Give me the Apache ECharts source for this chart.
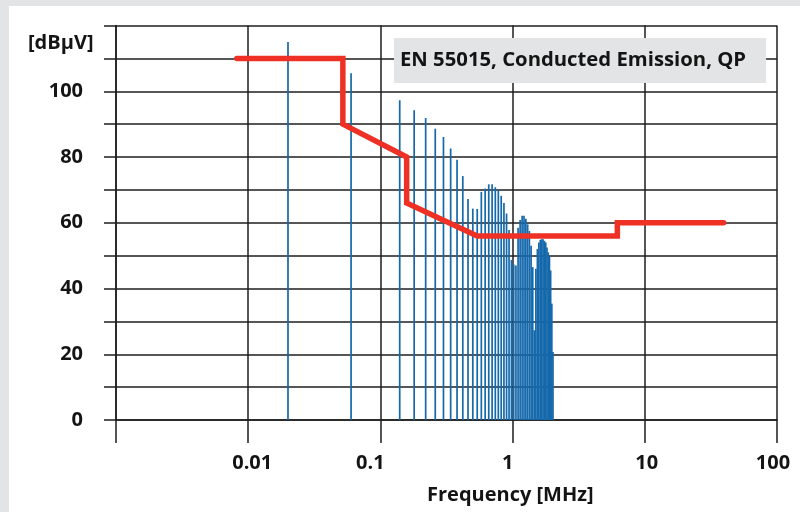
<!DOCTYPE html>
<html>
<head>
<meta charset="utf-8">
<script src="https://cdn.jsdelivr.net/npm/echarts@6/dist/echarts.min.js"></script>
<style>
  html, body { margin: 0; padding: 0; background: #e3e4e6; }
  #main { position: absolute; left: 9px; top: 6px; width: 791px; height: 506px; background: #fff; }
</style>
</head>
<body>
<div id="main"></div>
<script>
// harmonic spectrum (MHz / dBµV)
const spikeFreqs = [0.02, 0.06, 0.14, 0.18, 0.22, 0.26, 0.30, 0.34, 0.38, 0.42, 0.46, 0.50,
  0.54, 0.58, 0.62, 0.66, 0.70, 0.74, 0.78, 0.82, 0.86, 0.90, 0.94, 0.98, 1.02, 1.06,
  1.10, 1.14, 1.18, 1.22, 1.26, 1.30, 1.34, 1.38, 1.42, 1.46, 1.50, 1.54, 1.58, 1.62,
  1.66, 1.70, 1.74, 1.78, 1.82, 1.86, 1.90, 1.94, 1.98, 2.02];
const spikeLevels = [115, 105.5, 97.3, 94.2, 91.9, 88.6, 86.1, 82.6, 79.2, 74.2, 67.2, 64.3,
  64.2, 69.4, 70.4, 71.7, 71.7, 70.8, 70, 68.2, 66, 62.8, 57.8, 48.7, 47.3, 47,
  58.5, 60.8, 62.1, 62.1, 61.2, 59.5, 57.5, 53, 46.5, 27.3, 46, 52, 54, 54.8,
  55, 55, 54.5, 54, 52.5, 51, 49.7, 45.5, 35.4, 20.7];

// EN 55015 QP limit line
const limitFreqs = [0.0082, 0.052, 0.052, 0.158, 0.158, 0.54, 6.2, 6.2, 39.5];
const limitLevels = [110, 110, 90, 80, 66, 56, 56, 60, 60];

const xTickLabels = ['', '0.01', '0.1', '1', '10', '100'];

const spikeData = spikeFreqs.map((f, i) => [f, spikeLevels[i]]);
const limitData = limitFreqs.map((f, i) => [f, limitLevels[i]]);

const textColor = '#141414';
const gridColor = '#1e1e1e';
const font = '"Open Sans", "Noto Sans", sans-serif';

// the original's tick labels sit a little off-centre
const labelPad = [[0, 0, 0, 0], [0, 0, 0, 8], [0, 20, 0, 0], [0, 10, 0, 0], [0, 0, 0, 4], [0, 8, 0, 0]];
const labelRich = {};
labelPad.forEach((p, i) => {
  labelRich['t' + i] = { padding: p, fontFamily: font, fontWeight: 'bold', fontSize: 20, color: textColor };
});

const chart = echarts.init(document.getElementById('main'));

chart.setOption({
  animation: false,
  backgroundColor: '#fff',
  title: [
    {
      text: 'EN 55015, Conducted Emission, QP',
      left: 385,
      top: 32,
      backgroundColor: '#e3e4e6',
      padding: [11, 20, 11, 6],
      textStyle: { fontFamily: font, fontWeight: 'bold', fontSize: 20.3, lineHeight: 23, color: textColor }
    },
    {
      text: '[dBµV]',
      left: 19,
      top: 25,
      padding: 0,
      textStyle: { fontFamily: font, fontWeight: 'bold', fontSize: 20, lineHeight: 24, color: textColor }
    },
    {
      text: 'Frequency [MHz]',
      left: 418,
      top: 477,
      padding: 0,
      textStyle: { fontFamily: font, fontWeight: 'bold', fontSize: 20, lineHeight: 24, color: textColor }
    }
  ],
  grid: { left: 107, top: 19.5, right: 23, bottom: 92 },
  xAxis: {
    type: 'log',
    logBase: 10,
    min: 0.001,
    max: 100,
    axisLine: { show: true, onZero: false, lineStyle: { color: gridColor, width: 1.5 } },
    axisTick: { show: true, length: 23, lineStyle: { color: gridColor, width: 1.5 } },
    minorTick: { show: false },
    splitLine: { show: true, lineStyle: { color: gridColor, width: 1.5 } },
    axisLabel: {
      margin: 33,
      fontFamily: font,
      fontWeight: 'bold',
      fontSize: 20,
      color: textColor,
      formatter: (v, i) => (xTickLabels[i] ? '{t' + i + '|' + xTickLabels[i] + '}' : ''),
      rich: labelRich
    }
  },
  yAxis: {
    type: 'value',
    min: 0,
    max: 120,
    interval: 10,
    axisLine: { show: true, lineStyle: { color: gridColor, width: 1.5 } },
    axisTick: { show: true, length: 12, lineStyle: { color: gridColor, width: 1.5 } },
    splitLine: { show: true, lineStyle: { color: gridColor, width: 1.5 } },
    axisLabel: {
      margin: 33,
      fontFamily: font,
      fontWeight: 'bold',
      fontSize: 20,
      color: textColor,
      formatter: (v) => (v % 20 === 0 && v < 120 ? String(v) : '')
    }
  },
  series: [
    {
      name: 'Spectrum',
      type: 'custom',
      data: spikeData,
      renderItem: (params, api) => {
        const base = api.coord([api.value(0), 0]);
        const top = api.coord([api.value(0), api.value(1)]);
        return {
          type: 'line',
          shape: { x1: base[0], y1: base[1], x2: top[0], y2: top[1] },
          style: { stroke: '#1468ab', lineWidth: 1.7 }
        };
      },
      z: 3
    },
    {
      name: 'EN 55015, Conducted Emission, QP',
      type: 'line',
      data: limitData,
      symbol: 'none',
      lineStyle: { color: '#ee3124', width: 5.5, cap: 'round', join: 'miter' },
      z: 5
    }
  ]
});
</script>
</body>
</html>
